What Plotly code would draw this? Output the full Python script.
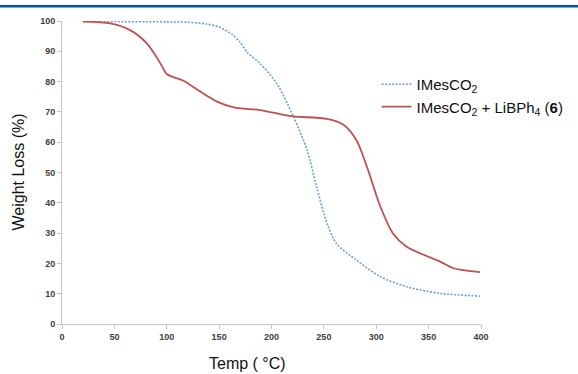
import plotly.graph_objects as go

# IMesCO2 (blue dotted)
temp_imes = [20, 40, 60, 80, 100, 120, 138, 150, 163, 170, 177, 189, 205, 221, 234, 243, 253, 262, 281, 304, 329, 361, 399]
wl_imes = [100, 99.9, 99.8, 99.8, 99.7, 99.6, 99.0, 98.0, 95.4, 93.0, 89.6, 86.0, 79.4, 68.4, 57.4, 45.3, 33.2, 26.6, 21.1, 15.6, 12.3, 10.1, 9.2]

# IMesCO2 + LiBPh4 (6) (red solid)
temp_mix = [20, 46, 65, 81, 94, 100, 116, 132, 148, 164, 189, 208, 221, 253, 269, 281, 291, 304, 316, 329, 361, 374, 399]
wl_mix = [99.8, 99.2, 97.0, 92.6, 86.0, 82.5, 80.3, 76.7, 73.4, 71.5, 70.6, 69.3, 68.5, 67.7, 65.7, 60.7, 52.0, 38.7, 29.9, 25.5, 20.6, 18.4, 17.1]

x_ticks = [0, 50, 100, 150, 200, 250, 300, 350, 400]
y_ticks = [0, 10, 20, 30, 40, 50, 60, 70, 80, 90, 100]

fig = go.Figure()
fig.add_trace(go.Scatter(
    x=temp_imes, y=wl_imes, mode="lines", name="IMesCO<sub>2</sub>",
    line=dict(color="#6b9ddc", width=1.6, dash="2px,1.5px", shape="spline", smoothing=0.8),
))
fig.add_trace(go.Scatter(
    x=temp_mix, y=wl_mix, mode="lines", name="IMesCO<sub>2</sub> + LiBPh<sub>4</sub> (<b>6</b>)",
    line=dict(color="#c0504d", width=1.8, shape="spline", smoothing=0.8),
))

axis_common = dict(
    showgrid=False, zeroline=False, showline=True, linecolor="#c4c4c4", linewidth=1,
    ticks="outside", ticklen=4, tickcolor="#c4c4c4", automargin=False,
    tickfont=dict(family="Liberation Sans, Arial", size=9, color="#404040", weight="bold"),
)

fig.update_layout(
    width=578, height=374, autosize=False,
    margin=dict(l=62, r=97, t=21, b=50, autoexpand=False),
    paper_bgcolor="white", plot_bgcolor="white",
    font=dict(family="Liberation Sans, Arial", color="#111111"),
    xaxis=dict(range=[0, 400], tickvals=x_ticks, **axis_common),
    yaxis=dict(range=[0, 100], tickvals=y_ticks, **axis_common),
    legend=dict(x=0.7507, y=0.845, xanchor="left", yanchor="top",
                font=dict(size=15, color="#111111"), bgcolor="rgba(0,0,0,0)",
                tracegroupgap=4),
    showlegend=True,
)

fig.add_annotation(
    text="Temp ( °C)", xref="paper", yref="paper", x=(247 - 62) / 419, y=-39 / 303,
    xanchor="center", yanchor="middle", showarrow=False,
    font=dict(size=16, family="Liberation Sans, Arial", color="#111111"),
)
fig.add_annotation(
    text="Weight Loss (%)", xref="paper", yref="paper", x=-(62 - 18) / 419, y=0.5,
    xanchor="center", yanchor="middle", showarrow=False, textangle=-90,
    font=dict(size=16, family="Liberation Sans, Arial", color="#111111"),
)

fig.add_shape(
    type="rect", xref="paper", yref="paper",
    x0=-0.2, x1=1.3, y0=1 + 13.5 / 303, y1=1 + 16 / 303,
    fillcolor="#0055a5", line=dict(width=0), layer="above",
)

fig.write_html(
    "out.html",
    config={"responsive": False, "displayModeBar": False},
    post_script="document.body.style.margin='0px';document.body.style.padding='0px';document.body.style.overflow='hidden';",
)
